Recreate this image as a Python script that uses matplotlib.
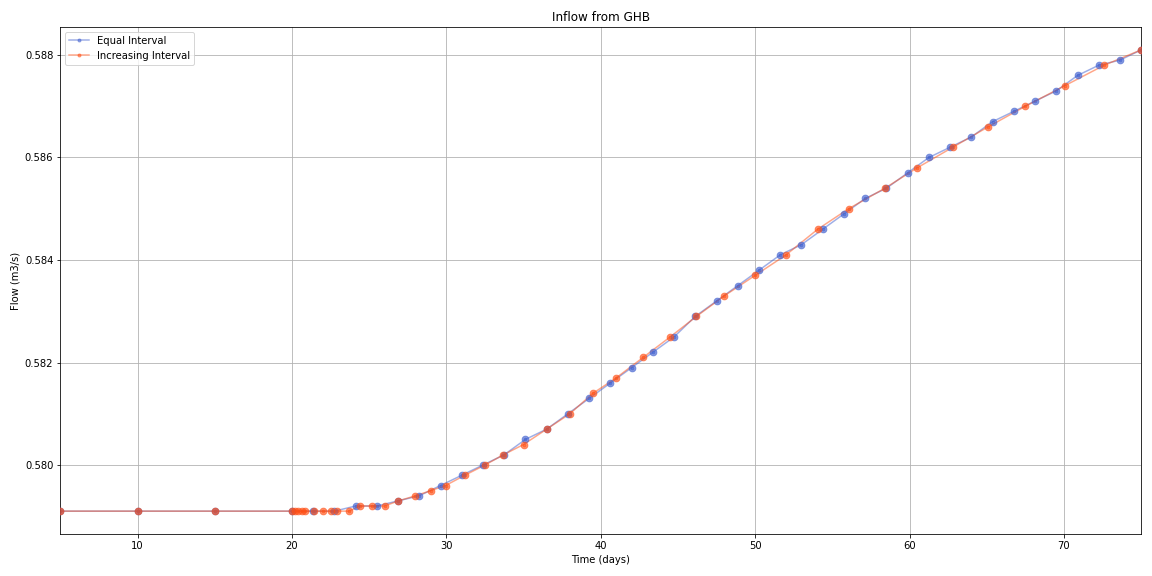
import matplotlib
matplotlib.use("Agg")
import matplotlib.pyplot as plt

# Equal Interval series (days, m3/s)
equal_t = [5, 10, 15, 20, 21.375, 22.75, 24.125, 25.5, 26.875, 28.25, 29.625,
           31.0, 32.375, 33.75, 35.125, 36.5, 37.875, 39.25, 40.625, 42.0,
           43.375, 44.75, 46.125, 47.5, 48.875, 50.25, 51.625, 53.0, 54.375,
           55.75, 57.125, 58.5, 59.875, 61.25, 62.625, 64.0, 65.375, 66.75,
           68.125, 69.5, 70.875, 72.25, 73.625, 75.0]
equal_q = [0.5791, 0.5791, 0.5791, 0.5791, 0.5791, 0.5791, 0.5792, 0.5792,
           0.5793, 0.5794, 0.5796, 0.5798, 0.5800, 0.5802, 0.5805, 0.5807,
           0.5810, 0.5813, 0.5816, 0.5819, 0.5822, 0.5825, 0.5829, 0.5832,
           0.5835, 0.5838, 0.5841, 0.5843, 0.5846, 0.5849, 0.5852, 0.5854,
           0.5857, 0.5860, 0.5862, 0.5864, 0.5867, 0.5869, 0.5871, 0.5873,
           0.5876, 0.5878, 0.5879, 0.5881]

# Increasing Interval series
incr_t = [5, 10, 15, 20, 20.2, 20.4, 20.65, 20.87, 21.4, 22.0, 22.5, 22.95,
          23.7, 24.4, 25.2, 26.0, 26.9, 28.0, 29.0, 29.95, 31.2, 32.5, 33.7,
          35.0, 36.5, 38.0, 39.5, 41.0, 42.75, 44.5, 46.2, 48.0, 50.0, 52.0,
          54.05, 56.05, 58.4, 60.5, 62.8, 65.1, 67.5, 70.05, 72.6, 75.0]
incr_q = [0.5791, 0.5791, 0.5791, 0.5791, 0.5791, 0.5791, 0.5791, 0.5791,
          0.5791, 0.5791, 0.5791, 0.5791, 0.5791, 0.5792, 0.5792, 0.5792,
          0.5793, 0.5794, 0.5795, 0.5796, 0.5798, 0.5800, 0.5802, 0.5804,
          0.5807, 0.5810, 0.5814, 0.5817, 0.5821, 0.5825, 0.5829, 0.5833,
          0.5837, 0.5841, 0.5846, 0.5850, 0.5854, 0.5858, 0.5862, 0.5866,
          0.5870, 0.5874, 0.5878, 0.5881]

blue = "#3f5fcf"
orange = "#ff4f14"

fig, ax = plt.subplots(figsize=(16, 8), dpi=72)

ax.plot(equal_t, equal_q, marker=".", color=blue, alpha=0.5, label="Equal Interval")
ax.scatter(equal_t, equal_q, s=45, color=blue, alpha=0.6, zorder=3)
ax.plot(incr_t, incr_q, marker=".", color=orange, alpha=0.5, label="Increasing Interval")
ax.scatter(incr_t, incr_q, s=45, color=orange, alpha=0.6, zorder=3)

ax.set_xlim(5, 75)
ax.set_title("Inflow from GHB")
ax.set_xlabel("Time (days)")
ax.set_ylabel("Flow (m3/s)")
ax.grid(True)
ax.legend(loc="upper left")

plt.tight_layout()
plt.savefig("out.png")
